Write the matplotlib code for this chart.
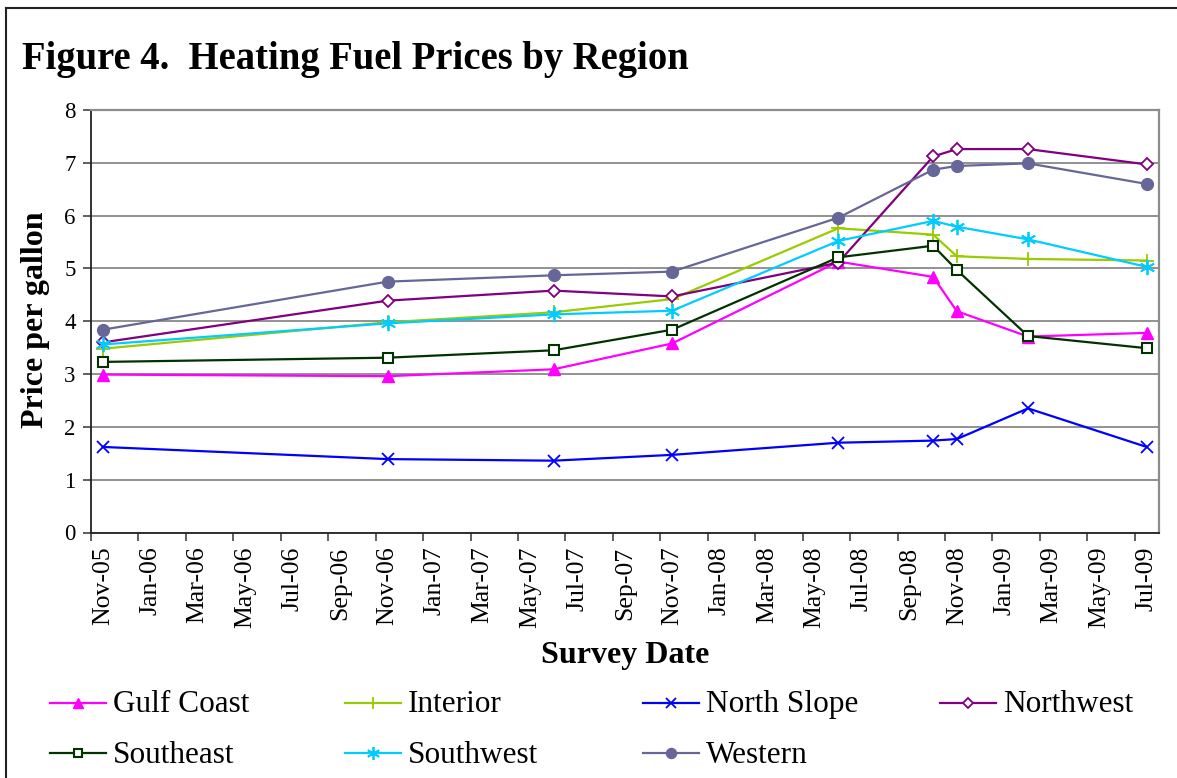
import matplotlib
matplotlib.use("Agg")
import matplotlib.pyplot as plt
from matplotlib.lines import Line2D

# ---- data ----
month_labels = ["Nov-05", "Jan-06", "Mar-06", "May-06", "Jul-06", "Sep-06", "Nov-06",
                "Jan-07", "Mar-07", "May-07", "Jul-07", "Sep-07", "Nov-07", "Jan-08",
                "Mar-08", "May-08", "Jul-08", "Sep-08", "Nov-08", "Jan-09", "Mar-09",
                "May-09", "Jul-09"]
# survey dates expressed as month index counted from Nov-2005
survey_month = [0, 12, 19, 24, 31, 35, 36, 39, 44]   # Nov-05, Nov-06, Jun-07, Nov-07, Jun-08, Oct-08, Nov-08, Feb-09, Jul-09

gulf_coast  = [2.99, 2.96, 3.09, 3.58, 5.13, 4.84, 4.19, 3.71, 3.78]
interior    = [3.48, 3.98, 4.17, 4.42, 5.76, 5.64, 5.23, 5.18, 5.15]
north_slope = [1.62, 1.39, 1.36, 1.47, 1.70, 1.74, 1.77, 2.35, 1.62]
northwest   = [3.60, 4.39, 4.58, 4.47, 5.11, 7.12, 7.26, 7.26, 6.97]
southeast   = [3.23, 3.31, 3.45, 3.84, 5.21, 5.43, 4.97, 3.72, 3.49]
southwest   = [3.56, 3.96, 4.13, 4.20, 5.52, 5.90, 5.79, 5.55, 5.03]
western     = [3.84, 4.75, 4.87, 4.94, 5.96, 6.87, 6.94, 6.99, 6.60]

series_names = ["Gulf Coast", "Interior", "North Slope", "Northwest",
                "Southeast", "Southwest", "Western"]
series_values = [gulf_coast, interior, north_slope, northwest,
                 southeast, southwest, western]

# ---- styles ----
styles = {
    "Gulf Coast":  dict(color="#FF00FF", marker="^", ms=8.5, mfc="#FF00FF", mew=1.0),
    "Interior":    dict(color="#99CC00", marker="+", ms=10, mfc="#99CC00", mew=1.3),
    "North Slope": dict(color="#0000FF", marker="x", ms=8, mfc="#0000FF", mew=1.3),
    "Northwest":   dict(color="#800080", marker="D", ms=6.5, mfc="white", mew=1.3),
    "Southeast":   dict(color="#003300", marker="s", ms=7.5, mfc="white", mew=1.5),
    "Southwest":   dict(color="#00CCFF", marker=(6, 2, 0), ms=11, mfc="#00CCFF", mew=1.3),
    "Western":     dict(color="#666699", marker="o", ms=8.5, mfc="#666699", mew=1.0),
}

plt.rcParams['font.family'] = ['Liberation Serif', 'DejaVu Serif']

W, H = 1177, 778
fig = plt.figure(figsize=(W / 100, H / 100), dpi=100)
ax = fig.add_axes([91 / W, 1 - 532.5 / H, (1158.5 - 91) / W, (532.5 - 110) / H])

for name, vals in zip(series_names, series_values):
    st = styles[name]
    ax.plot(survey_month, vals, color=st["color"], lw=1.6, marker=st["marker"],
            markersize=st["ms"], markerfacecolor=st["mfc"],
            markeredgecolor=st["color"], markeredgewidth=st["mew"],
            zorder=3, clip_on=False)

ax.set_xlim(-0.5, 44.5)
ax.set_ylim(0, 8)
ax.set_yticks(range(0, 9))
ax.yaxis.grid(True, color="#7f7f7f", lw=1.2, zorder=0)
ax.set_axisbelow(True)

# tick marks at month boundaries every 2 months, labels centred on the month
ax.set_xticks([m - 0.5 for m in range(0, 45, 2)])
ax.set_xticklabels([])
ax.set_xticks(list(range(0, 45, 2)), minor=True)
ax.set_xticklabels(month_labels, minor=True, rotation=90, fontsize=18.5)
ax.tick_params(axis="x", which="minor", length=0, pad=10)
ax.tick_params(axis="x", which="major", length=6, width=1.1, color="#333333", direction="out")
ax.tick_params(axis="y", length=6, width=1.1, color="#333333", labelsize=16.5, pad=5)

for side in ["top", "right"]:
    ax.spines[side].set_color("#8c8c8c")
    ax.spines[side].set_linewidth(1.6)
for side in ["left", "bottom"]:
    ax.spines[side].set_color("#222222")
    ax.spines[side].set_linewidth(1.3)

fig.text(36 / W, 1 - 320 / H, "Price per gallon", fontsize=23, fontweight="bold",
         ha="center", va="center", rotation=90)
fig.text(625 / W, 1 - 655 / H, "Survey Date", fontsize=23, fontweight="bold",
         ha="center", va="center")

fig.text(22 / W, 1 - 60 / H, "Figure 4.  Heating Fuel Prices by Region",
         fontsize=27.8, fontweight="bold", ha="left", va="center")

# outer frame (cropped at right and bottom)
fig.add_artist(Line2D([6 / W, 1.0], [1 - 8 / H, 1 - 8 / H], color="#222222", lw=1.5,
                      transform=fig.transFigure))
fig.add_artist(Line2D([6 / W, 6 / W], [1 - 8 / H, 0.0], color="#222222", lw=1.5,
                      transform=fig.transFigure))

# legend entries, drawn individually: (handle start x, handle line y, text baseline y)
legend_pos = {
    "Gulf Coast": (50, 703, 712), "Interior": (345, 703, 712),
    "North Slope": (643, 703, 712), "Northwest": (940, 703, 712),
    "Southeast": (50, 753, 763), "Southwest": (345, 753, 763),
    "Western": (643, 753, 763),
}
for name in series_names:
    x, yl, yb = legend_pos[name]
    st = styles[name]
    fig.add_artist(Line2D([x / W, (x + 56) / W], [1 - yl / H, 1 - yl / H],
                          color=st["color"], lw=1.6, transform=fig.transFigure))
    fig.add_artist(Line2D([(x + 28) / W], [1 - yl / H], color=st["color"], lw=0,
                          marker=st["marker"], markersize=st["ms"] * 0.85,
                          markerfacecolor=st["mfc"], markeredgecolor=st["color"],
                          markeredgewidth=st["mew"], transform=fig.transFigure))
    fig.text((x + 63) / W, 1 - yb / H, name, fontsize=22.5, ha="left", va="baseline")

fig.savefig("out.png", dpi=100)
